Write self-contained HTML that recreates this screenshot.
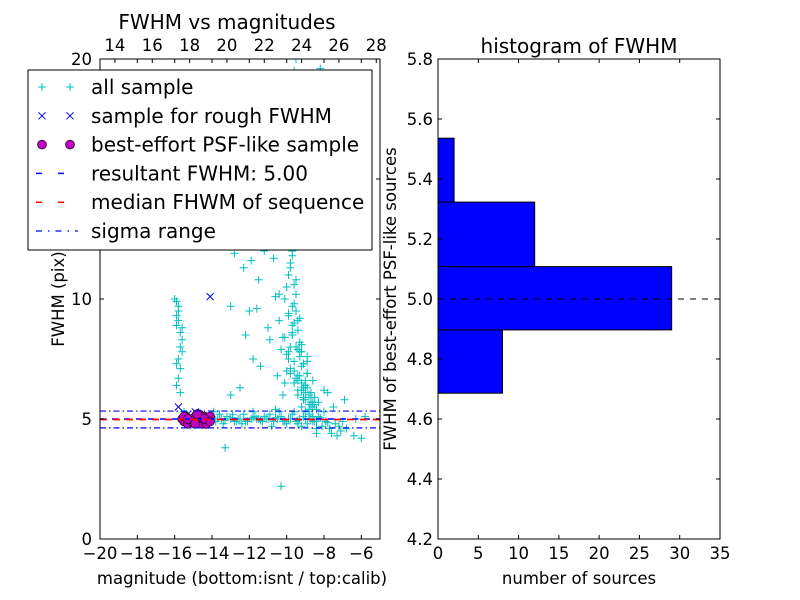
<!DOCTYPE html>
<html><head><meta charset="utf-8"><style>
body{margin:0;background:#fff;}
svg{display:block;font-family:"DejaVu Sans","Liberation Sans",sans-serif;}
</style></head><body>
<svg id="fig" width="800" height="600" viewBox="0 0 800 600"></svg>
<script>
// ---- left scatter data ----
const allMag = [-16.0,-15.9,-15.8,-15.9,-15.8,-15.9,-15.7,-15.6,-15.7,-15.6,-15.8,-15.7,-15.8,-15.9,-15.7,-15.9,-15.6,-15.8,-15.5,-15.6,
-15.2,-14.9,-14.6,-14.3,-14.0,-13.8,-13.5,-13.2,-13.0,-12.8,-12.6,-12.3,-12.1,-11.9,-11.7,-11.5,-11.3,-11.1,-10.9,-10.7,
-10.5,-10.3,-10.1,-9.9,-9.7,-9.5,-9.3,-9.1,-8.9,-8.7,-8.5,-8.3,-8.1,-7.9,-7.7,-7.4,-7.1,-6.8,-6.4,-6.0,
-13.9,-13.4,-12.9,-12.4,-11.8,-11.2,-10.8,-10.4,-10.0,-9.6,-9.2,-8.8,-8.4,-8.0,-7.6,-7.2,-13.6,-12.7,-11.6,-10.6,
-10.2,-10.1,-10.0,-9.9,-9.8,-9.7,-9.6,-9.5,-9.4,-9.3,-9.2,-9.1,-9.0,-8.9,-8.8,-8.7,-8.6,-8.5,-8.4,-8.3,
-10.1,-10.0,-9.9,-9.8,-9.7,-9.6,-9.5,-9.4,-9.3,-9.2,-9.1,-9.0,-8.9,-8.8,-8.7,-8.6,-9.8,-9.5,-9.2,-8.9,
-10.0,-9.9,-9.8,-9.7,-9.6,-9.5,-9.4,-9.9,-9.7,-9.5,-10.1,-9.8,-9.6,-9.4,-9.9,-9.7,-10.0,-9.6,-9.8,-9.5,
-9.9,-9.7,-9.6,-9.8,-9.5,-9.7,-9.9,-9.6,-9.4,-9.8,
-12.8,-11.9,-11.2,-10.7,-12.3,-11.5,-13.0,-10.4,-11.0,-12.0,-8.2,-9.2,-10.9,-11.4,-12.5,-13.3,-10.5,-9.0,-8.0,-7.5,
-10.6,-11.6,-12.2,-9.9,-8.6,-7.8,-6.9,-6.3,-5.8,-7.3,-13.0,-10.3,-11.8,-9.4,-8.4,
-14.8,-14.4,-14.1,-13.7,-13.3,-12.9,-12.5,-12.2,-11.8,-11.4,-11.0,-10.6,-10.2,-9.8,-9.4,-9.0,-8.6,-8.2,-7.8,-7.0,
-10.4,-10.2,-10.0,-9.8,-9.6,-9.4,-9.2,-9.0,-8.8,-8.6,-8.4,-9.7,-9.3,-8.9,-9.5,-9.1,-8.7,-8.5,-9.9,-10.3,
-9.6,-9.4,-9.2,-9.0,-8.8,-9.3,-9.1,-8.9,-9.7,-9.5,-9.2,-9.0,-8.7,-9.6,-9.4,-9.1,-8.8,-9.8,-9.3,-8.6];
const allFwhm = [10.0,9.9,9.5,9.3,9.1,8.9,8.6,8.3,8.0,7.8,7.5,7.1,6.7,6.4,6.1,7.3,8.8,9.7,5.3,5.0,
5.0,5.1,4.9,5.0,5.1,4.9,5.0,5.1,5.0,4.9,5.0,5.2,4.9,5.0,5.1,5.0,4.9,5.0,5.2,4.9,
5.0,5.1,4.9,5.0,5.2,4.9,5.0,5.1,4.8,5.0,4.9,5.1,4.7,4.9,4.6,4.8,4.5,4.6,4.3,4.2,
5.3,4.8,5.2,4.8,5.3,5.1,4.7,5.3,4.8,5.3,4.7,5.4,4.6,5.3,4.4,4.7,5.2,4.9,5.0,5.4,
6.0,6.5,7.0,7.5,8.0,8.5,9.0,9.5,6.2,6.8,7.2,5.8,6.4,6.9,5.6,6.1,5.5,5.9,5.4,5.7,
10.0,10.5,11.0,11.5,12.0,9.8,10.8,8.7,9.2,7.8,7.3,6.6,6.3,6.0,5.6,5.7,12.5,13.0,8.1,7.6,
13.5,14.0,14.5,15.0,15.5,16.0,12.8,9.3,9.7,10.2,8.4,11.3,10.6,7.9,12.2,13.8,14.8,16.5,17.0,17.5,
18.0,18.5,19.5,19.0,20.0,11.8,16.8,15.3,9.1,14.2,
11.9,11.6,12.0,11.7,11.3,10.8,9.7,10.2,8.8,9.5,19.6,18.8,8.3,7.2,6.3,3.8,6.8,6.4,6.2,5.5,
10.1,9.6,8.5,7.8,6.6,6.1,5.8,5.0,5.1,4.3,6.0,2.2,7.5,4.8,4.4,
4.95,5.05,4.9,5.0,4.95,5.05,5.0,4.9,5.05,4.95,5.0,5.05,4.9,5.0,4.95,5.0,4.9,5.05,4.85,4.9,
9.1,8.4,7.7,7.1,6.5,6.0,5.5,5.3,5.2,5.1,4.9,8.9,8.2,7.4,6.7,6.3,5.9,5.6,9.4,7.9,
7.0,6.6,6.2,5.8,5.4,7.8,7.3,6.9,8.6,8.0,6.5,6.1,5.7,7.4,6.8,5.9,5.3,6.9,7.6,5.0];
const roughMag = [-14.1,-15.8,-15.3,-14.9,-14.5];
const roughFwhm = [10.1,5.5,5.2,5.3,5.1];
const psfMag = [-15.6,-15.5,-15.4,-15.3,-15.2,-15.1,-15.0,-14.9,-14.8,-14.7,-14.6,-14.5,-14.4,-14.3,-14.2,-14.1,-15.5,-15.2,-14.9,-14.6,-14.3,-15.3,-14.8,-14.4,-14.1];
const psfFwhm = [5.0,4.9,5.1,4.8,5.0,4.9,5.0,5.1,4.9,5.2,5.0,4.8,5.1,4.9,5.0,5.1,5.1,5.0,4.8,5.1,4.8,5.0,5.2,5.0,4.9];
const resultFwhm = 5.00, medianFwhm = 4.98, sigmaLo = 4.63, sigmaHi = 5.33;
const xTicks = [-20,-18,-16,-14,-12,-10,-8,-6];
const topTicks = [14,16,18,20,22,24,26,28];
const yTicks = [0,5,10,15,20];
// ---- histogram data ----
const binEdges = [4.686,4.897,5.108,5.323,5.536];
const binCounts = [8,29,12,2];
const hxTicks = [0,5,10,15,20,25,30,35];
const hyTicks = [4.2,4.4,4.6,4.8,5.0,5.2,5.4,5.6,5.8];

const NS='http://www.w3.org/2000/svg';
const svg=document.getElementById('fig');
function el(tag,attrs,parent,text){const e=document.createElementNS(NS,tag);for(const k in attrs)e.setAttribute(k,attrs[k]);if(text!==undefined)e.textContent=text;(parent||svg).appendChild(e);return e;}
const FT=16.5;

// left axes
const L={x0:100,x1:380,y0:59,y1:539};
const lx=v=>L.x0+(v+20)/15*(L.x1-L.x0);
const ly=v=>L.y1-v/20*(L.y1-L.y0);
const tx=v=>lx(v-33.2);
const gL=el('g',{});


const clipDef=el('defs',{});
const cp=el('clipPath',{id:'cl'},clipDef);el('rect',{x:L.x0,y:L.y0,width:L.x1-L.x0,height:L.y1-L.y0},cp);
const pts=el('g',{'clip-path':'url(#cl)'},gL);
function plus(x,y,c,p){el('path',{d:`M${x-4},${y}H${x+4}M${x},${y-4}V${y+4}`,stroke:c,'stroke-width':1,fill:'none'},p);}
function cross(x,y,c,p){el('path',{d:`M${x-3.5},${y-3.5}L${x+3.5},${y+3.5}M${x-3.5},${y+3.5}L${x+3.5},${y-3.5}`,stroke:c,'stroke-width':1,fill:'none'},p);}
const allG=el('g',{},pts);


for(let i=0;i<allMag.length;i++)plus(lx(allMag[i]),ly(allFwhm[i]),'#00bfbf',allG);
const rG=el('g',{},pts);


for(let i=0;i<roughMag.length;i++)cross(lx(roughMag[i]),ly(roughFwhm[i]),'#0000ff',rG);
const pG=el('g',{},pts);


for(let i=0;i<psfMag.length;i++)el('circle',{cx:lx(psfMag[i]),cy:ly(psfFwhm[i]),r:4.5,fill:'#bf00bf',stroke:'#000','stroke-width':0.6},pG);
const ln1=el('line',{x1:L.x0,x2:L.x1,y1:ly(resultFwhm),y2:ly(resultFwhm),stroke:'#0000ff','stroke-width':1.5,'stroke-dasharray':'6,6'},pts);


for(const s of [sigmaLo,sigmaHi]){const l=el('line',{x1:L.x0,x2:L.x1,y1:ly(s),y2:ly(s),stroke:'#0000ff','stroke-width':1.2,'stroke-dasharray':'6,3,1.5,3'},pts);

}
const ln2=el('line',{x1:L.x0,x2:L.x1,y1:ly(medianFwhm),y2:ly(medianFwhm),stroke:'#ff0000','stroke-width':1.8,'stroke-dasharray':'7,6'},pts);


el('rect',{x:L.x0,y:L.y0,width:L.x1-L.x0,height:L.y1-L.y0,fill:'none',stroke:'#000','stroke-width':1},gL);
for(const t of xTicks){const x=lx(t);el('path',{d:`M${x},${L.y1}v-4M${x},${L.y0}v4`,stroke:'#000'},gL);
const tt=el('text',{x:x,y:L.y1+20,'text-anchor':'middle','font-size':FT},gL,(t<0?'\u2212':'')+Math.abs(t));

}
for(const t of topTicks){const x=tx(t);el('path',{d:`M${x},${L.y0}v4`,stroke:'#000'},gL);
const tt=el('text',{x:x,y:L.y0-8,'text-anchor':'middle','font-size':FT},gL,String(t));

}
for(const t of yTicks){const y=ly(t);el('path',{d:`M${L.x0},${y}h4M${L.x1},${y}h-4`,stroke:'#000'},gL);
const tt=el('text',{x:L.x0-8,y:y+6,'text-anchor':'end','font-size':FT},gL,String(t));

}
const t1=el('text',{x:227,y:29,'text-anchor':'middle','font-size':20},gL,'FWHM vs magnitudes');


const xl=el('text',{x:242,y:584,'text-anchor':'middle','font-size':FT},gL,'magnitude (bottom:isnt / top:calib)');


const yl=el('text',{x:64,y:299,'text-anchor':'middle','font-size':FT,transform:'rotate(-90 64 299)'},gL,'FWHM (pix)');



// legend
const lg=el('g',{});


el('rect',{x:28,y:70,width:344,height:180,fill:'#fff',stroke:'#000','stroke-width':1},lg);
const labels=['all sample','sample for rough FWHM','best-effort PSF-like sample','resultant FWHM: 5.00','median FHWM of sequence','sigma range'];
labels.forEach((lab,i)=>{const y=87+i*28.8;
 if(i===0){plus(42,y,'#00bfbf',lg);plus(70,y,'#00bfbf',lg);}
 if(i===1){cross(42,y,'#0000ff',lg);cross(70,y,'#0000ff',lg);}
 if(i===2){el('circle',{cx:42,cy:y,r:4.5,fill:'#bf00bf',stroke:'#000','stroke-width':0.6},lg);el('circle',{cx:70,cy:y,r:4.5,fill:'#bf00bf',stroke:'#000','stroke-width':0.6},lg);}
 if(i===3)el('line',{x1:36,x2:78,y1:y,y2:y,stroke:'#0000ff','stroke-width':1.5,'stroke-dasharray':'6,16'},lg);
 if(i===4)el('line',{x1:36,x2:78,y1:y,y2:y,stroke:'#ff0000','stroke-width':1.5,'stroke-dasharray':'6,16'},lg);
 if(i===5)el('line',{x1:36,x2:78,y1:y,y2:y,stroke:'#0000ff','stroke-width':1.2,'stroke-dasharray':'6,6,1.5,6'},lg);
 const t=el('text',{x:91,y:y+7,'font-size':20},lg,lab);
 
 
});

// histogram axes
const H={x0:438,x1:720,y0:59,y1:539};
const hx=v=>H.x0+v/35*(H.x1-H.x0);
const hy=v=>H.y1-(v-4.2)/1.6*(H.y1-H.y0);
const gH=el('g',{});


for(let i=0;i<binCounts.length;i++){
 const b=el('rect',{x:hx(0),y:hy(binEdges[i+1]),width:hx(binCounts[i])-hx(0),height:hy(binEdges[i])-hy(binEdges[i+1]),fill:'#0000ff',stroke:'#000','stroke-width':1},gH);
 
 
}
const hl=el('line',{x1:H.x0,x2:H.x1,y1:hy(resultFwhm),y2:hy(resultFwhm),stroke:'#000','stroke-width':1,'stroke-dasharray':'6,6'},gH);


el('rect',{x:H.x0,y:H.y0,width:H.x1-H.x0,height:H.y1-H.y0,fill:'none',stroke:'#000','stroke-width':1},gH);
for(const t of hxTicks){const x=hx(t);el('path',{d:`M${x},${H.y1}v-4M${x},${H.y0}v4`,stroke:'#000'},gH);
const tt=el('text',{x:x,y:H.y1+20,'text-anchor':'middle','font-size':FT},gH,String(t));

}
for(const t of hyTicks){const y=hy(t);el('path',{d:`M${H.x0},${y}h4M${H.x1},${y}h-4`,stroke:'#000'},gH);
const tt=el('text',{x:H.x0-5,y:y+6,'text-anchor':'end','font-size':FT},gH,t.toFixed(1));

}
const t2=el('text',{x:579,y:53,'text-anchor':'middle','font-size':20},gH,'histogram of FWHM');


const hxl=el('text',{x:579,y:584,'text-anchor':'middle','font-size':FT},gH,'number of sources');


const hyl=el('text',{x:396,y:299,'text-anchor':'middle','font-size':FT,transform:'rotate(-90 396 299)'},gH,'FWHM of best-effort PSF-like sources');


</script>
</body></html>
